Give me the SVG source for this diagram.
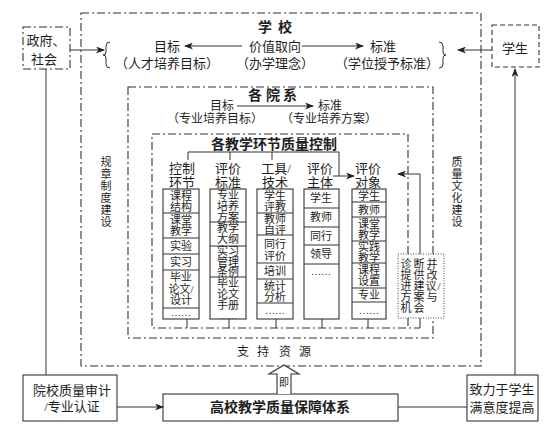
<svg xmlns="http://www.w3.org/2000/svg" width="551" height="431" viewBox="0 0 551 431">
<style>
text{font-family:"Liberation Serif","Noto Sans CJK SC",serif;fill:#1e1e1e;text-anchor:middle;dominant-baseline:central}
.s11{font-size:11px}.s12{font-size:12px}.s13{font-size:13px}.s10{font-size:10px}.s9{font-size:9px}
.b{font-weight:bold;font-size:14px}
.dd{fill:none;stroke:#333;stroke-width:1.1;stroke-dasharray:8 3 2 3}
.ds{fill:none;stroke:#333;stroke-width:1.1;stroke-dasharray:5 3}
.dot{fill:#fff;stroke:#444;stroke-width:1;stroke-dasharray:1 1.5}
.box{fill:#fff;stroke:#333;stroke-width:1.1}
.ln{fill:none;stroke:#333;stroke-width:1}
.arr{fill:none;stroke:#333;stroke-width:1;marker-end:url(#ah)}
</style>
<defs>
<marker id="ah" markerWidth="9" markerHeight="7" refX="8" refY="3.5" orient="auto" markerUnits="userSpaceOnUse">
<path d="M0,0 L9,3.5 L0,7 L2.5,3.5 z" fill="#222"/>
</marker>
</defs>
<rect width="551" height="431" fill="#fff"/>

<g id="school">
<rect class="dd" x="81" y="13" width="400" height="353"/>
<text class="b" x="265 285" y="27">学校</text>
<text class="s13"><tspan x="167" y="46">目标</tspan><tspan x="167" y="63">（人才培养目标）</tspan></text>
<text class="s13"><tspan x="275" y="46">价值取向</tspan><tspan x="275" y="63">（办学理念）</tspan></text>
<text class="s13"><tspan x="383" y="46">标准</tspan><tspan x="387" y="63">（学位授予标准）</tspan></text>
<path class="ln" d="M110,42 Q106,42 106,46 V52 Q106,55 103,55 Q106,55 106,58 V64 Q106,68 110,68"/>
<path class="ln" d="M439,42 Q443,42 443,46 V52 Q443,55 446,55 Q443,55 443,58 V64 Q443,68 439,68"/>
<text class="s11" x="106 106 106 106 106 106" y="162 174 186 198 210 222">规章制度建设</text>
<text class="s11" x="457 457 457 457 457 457" y="162 174 186 198 210 222">质量文化建设</text>
<text class="s12" x="243 263 285 305" y="352">支持资源</text>
</g>

<g id="dept">
<rect class="dd" x="128" y="87" width="305" height="251"/>
<text class="b" x="255 273 290" y="95">各院系</text>
<text class="s12"><tspan x="222" y="106">目标</tspan><tspan x="215" y="119">（专业培养目标）</tspan></text>
<text class="s12"><tspan x="330" y="106">标准</tspan><tspan x="329" y="119">（专业培养方案）</tspan></text>
</g>

<g id="control">
<path class="dd" d="M408,254 V134 H152 V328 H420"/>
<path class="dd" d="M408,318 V328"/>
<text class="b" x="274" y="144">各教学环节质量控制</text>
<text class="s13"><tspan x="182" y="168">控制</tspan><tspan x="182" y="182">环节</tspan></text>
<text class="s13"><tspan x="228" y="168">评价</tspan><tspan x="228" y="182">标准</tspan></text>
<text class="s13"><tspan x="276" y="168">工具/</tspan><tspan x="275" y="182">技术</tspan></text>
<text class="s13"><tspan x="320" y="168">评价</tspan><tspan x="320" y="182">主体</tspan></text>
<text class="s13"><tspan x="368" y="168">评价</tspan><tspan x="368" y="182">对象</tspan></text>
</g>

<g id="col1">
<rect class="box" x="163" y="189" width="36" height="130"/>
<path class="ln" d="M163,213H199M163,238H199M163,254H199M163,270H199M163,308H199"/>
<text class="s11"><tspan x="181" y="195.5">课程</tspan><tspan x="181" y="206.5">结构</tspan></text>
<text class="s11"><tspan x="181" y="220">课堂</tspan><tspan x="181" y="231">教学</tspan></text>
<text class="s11" x="181" y="246">实验</text>
<text class="s11" x="181" y="262">实习</text>
<text class="s11"><tspan x="181" y="277">毕业</tspan><tspan x="181" y="288.5">论文/</tspan><tspan x="181" y="300">设计</tspan></text>
<text class="s10" x="181" y="312">……</text>
</g>
<g id="col2">
<rect class="box" x="210" y="189" width="36" height="130"/>
<path class="ln" d="M210,222H246M210,246H246M210,277H246"/>
<text class="s11"><tspan x="228" y="194.5">专业</tspan><tspan x="228" y="205.5">培养</tspan><tspan x="228" y="216.5">方案</tspan></text>
<text class="s11"><tspan x="228" y="228">教学</tspan><tspan x="228" y="239">大纲</tspan></text>
<text class="s11"><tspan x="228" y="250.5">实习</tspan><tspan x="228" y="261.5">管理</tspan><tspan x="228" y="272">条例</tspan></text>
<text class="s11"><tspan x="228" y="282.5">毕业</tspan><tspan x="228" y="293.5">论文</tspan><tspan x="228" y="304.5">手册</tspan></text>
<text class="s9" x="228" y="316">……</text>
</g>
<g id="col3">
<rect class="box" x="257" y="189" width="36" height="130"/>
<path class="ln" d="M257,213H293M257,235H293M257,263H293M257,279H293M257,303H293"/>
<text class="s11"><tspan x="275" y="195.5">学生</tspan><tspan x="275" y="206.5">评教</tspan></text>
<text class="s11"><tspan x="275" y="219">教师</tspan><tspan x="275" y="230">自评</tspan></text>
<text class="s11"><tspan x="275" y="244">同行</tspan><tspan x="275" y="255.5">评价</tspan></text>
<text class="s11" x="275" y="271">培训</text>
<text class="s11"><tspan x="275" y="285.5">统计</tspan><tspan x="275" y="296.5">分析</tspan></text>
<text class="s10" x="275" y="310">……</text>
</g>
<g id="col4">
<rect class="box" x="304" y="189" width="35" height="130"/>
<path class="ln" d="M304,208H339M304,227H339M304,245H339M304,264H339"/>
<text class="s11" x="321" y="198">学生</text>
<text class="s11" x="321" y="217">教师</text>
<text class="s11" x="321" y="236">同行</text>
<text class="s11" x="321" y="254">领导</text>
<text class="s10" x="321" y="271">……</text>
</g>
<g id="col5">
<rect class="box" x="352" y="189" width="34" height="130"/>
<path class="ln" d="M352,202H386M352,217H386M352,241H386M352,263H386M352,288H386M352,302H386"/>
<text class="s11" x="369" y="195.5">学生</text>
<text class="s11" x="369" y="209.5">教师</text>
<text class="s11"><tspan x="369" y="223.5">课堂</tspan><tspan x="369" y="234.5">教学</tspan></text>
<text class="s11"><tspan x="369" y="246.5">实践</tspan><tspan x="369" y="257.5">教学</tspan></text>
<text class="s11"><tspan x="369" y="270">课程</tspan><tspan x="369" y="281">设置</tspan></text>
<text class="s11" x="369" y="295">专业</text>
<text class="s10" x="369" y="310">……</text>
</g>

<g id="diagnose">
<rect class="dot" x="398" y="254" width="46" height="64"/>
<text class="s11"><tspan x="406 419 432" y="264">诊断并</tspan><tspan x="406 419 432" y="275">提供改</tspan><tspan x="406 419 431 439" y="286">进建议/</tspan><tspan x="406 419 432" y="297">方案与</tspan><tspan x="406 419" y="308">机会</tspan></text>
</g>

<g id="gov">
<rect class="dd" x="23" y="27" width="47" height="42" fill="#fff"/>
<text class="s13"><tspan x="46" y="40">政府、</tspan><tspan x="44" y="59">社会</tspan></text>
</g>
<g id="student">
<rect class="ds" x="492" y="25" width="47" height="42"/>
<text class="s13" x="515" y="48">学生</text>
</g>
<g id="audit">
<rect class="box" x="23" y="375" width="94" height="46"/>
<text class="s13"><tspan x="72" y="390">院校质量审计</tspan><tspan x="72" y="406">/专业认证</tspan></text>
</g>
<g id="system">
<rect class="box" x="163" y="394" width="235" height="27"/>
<text class="b" x="280" y="407">高校教学质量保障体系</text>
</g>
<g id="satisfy">
<rect class="box" x="467" y="375" width="71" height="46"/>
<text class="s13"><tspan x="502" y="389">致力于学生</tspan><tspan x="502" y="407">满意度提高</tspan></text>
</g>
<g id="ji">
<path d="M277,394 V374 H269 L284,365 L299,374 H291 V394" fill="#fff" stroke="#333" stroke-width="1.1"/>
<text class="s10" x="284" y="382">即</text>
</g>

<g id="connectors">
<path class="arr" d="M242,46 H185"/>
<path class="arr" d="M302,46 H363"/>
<path class="arr" d="M237,106 H313"/>
<path class="ln" d="M188,160 V152 H339 V176 M230,152 V160 M272,152 V160"/>
<path class="arr" d="M333,176 H354"/>
<path class="ln" d="M187,319 V328 M229,319 V328 M276,319 V328 M322,319 V328 M368,319 V328 M420,318 V328"/>
<path class="arr" d="M420,254 V174 H398"/>
<path class="arr" d="M70,50 H104"/>
<path class="arr" d="M492,50 H458"/>
<path class="arr" d="M515,375 V69"/>
<path class="ln" d="M46,69 V375"/>
<path class="arr" d="M117,407 H163"/>
<path class="ln" d="M398,407 H467"/>
</g>
</svg>
